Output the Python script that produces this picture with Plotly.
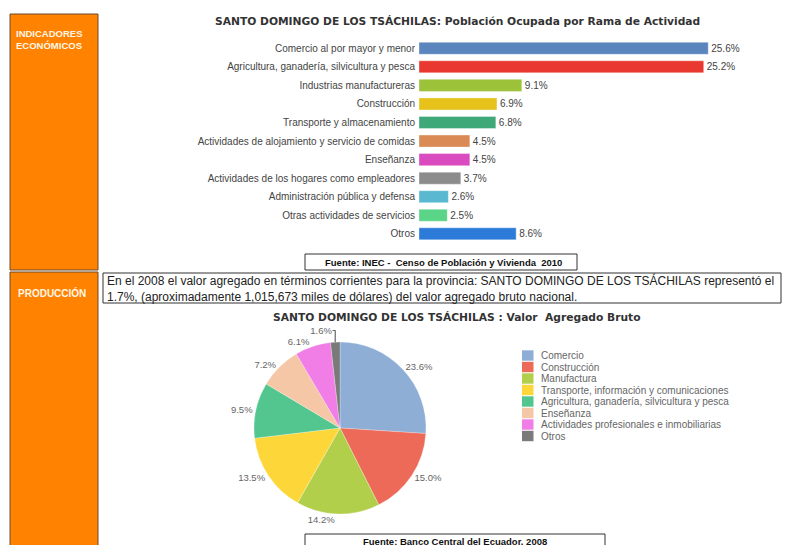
import plotly.graph_objects as go

# The page body has an 8px default margin, so the figure is sized to the
# remaining viewport and positions below are given in screen pixels.
OFF = 8
W, H = 792 - OFF, 545 - OFF

# ---------------- data ----------------
bar_categories = [
    "Comercio al por mayor y menor",
    "Agricultura, ganadería, silvicultura y pesca",
    "Industrias manufactureras",
    "Construcción",
    "Transporte y almacenamiento",
    "Actividades de alojamiento y servicio de comidas",
    "Enseñanza",
    "Actividades de los hogares como empleadores",
    "Administración pública y defensa",
    "Otras actividades de servicios",
    "Otros",
]
bar_values = [25.6, 25.2, 9.1, 6.9, 6.8, 4.5, 4.5, 3.7, 2.6, 2.5, 8.6]
bar_colors = ["#5a86bd", "#e8382f", "#9cc23a", "#e6c21a", "#3fa878", "#d98a55",
              "#d94bbf", "#8c8c8c", "#5bb8d1", "#5ad487", "#2d7bd9"]

pie_labels = [
    "Comercio",
    "Construcción",
    "Manufactura",
    "Transporte, información y comunicaciones",
    "Agricultura, ganadería, silvicultura y pesca",
    "Enseñanza",
    "Actividades profesionales e inmobiliarias",
    "Otros",
]
pie_values = [23.6, 15.0, 14.2, 13.5, 9.5, 7.2, 6.1, 1.6]
pie_colors = ["#8eaed6", "#ee6a58", "#b2cf4c", "#fdd73a", "#52c68e",
              "#f5c7a6", "#f07ee6", "#7a7a7a"]

bar_title = "SANTO DOMINGO DE LOS TSÁCHILAS: Población Ocupada por Rama de Actividad"
pie_title = "SANTO DOMINGO DE LOS TSÁCHILAS : Valor  Agregado Bruto"
source1 = "Fuente: INEC -  Censo de Población y Vivienda  2010"
source2 = "Fuente: Banco Central del Ecuador, 2008"
paragraph = ["En el 2008 el valor agregado en términos corrientes para la provincia: SANTO DOMINGO DE LOS TSÁCHILAS representó el",
             "1.7%, (aproximadamente 1,015,673 miles de dólares) del valor agregado bruto nacional."]

FONT = "Liberation Sans, Arial, sans-serif"
TFONT = "DejaVu Sans, Verdana, sans-serif"


def px(x):
    return (x - OFF) / W


def py(y):
    return 1 - (y - OFF) / H


fig = go.Figure()

fig.add_trace(go.Bar(
    x=bar_values, y=bar_categories, orientation="h",
    marker=dict(color=bar_colors, line=dict(color="rgba(255,255,255,0.6)", width=0.6)),
    width=0.65,
    text=[f"{v:.1f}%" for v in bar_values], textposition="outside",
    textfont=dict(family=FONT, size=10, color="#444"),
    cliponaxis=False, showlegend=False, hoverinfo="skip",
))

fig.add_trace(go.Pie(
    labels=pie_labels, values=pie_values, sort=False, direction="clockwise",
    rotation=0, marker=dict(colors=pie_colors, line=dict(color="rgba(255,255,255,0.5)", width=0.5)),
    text=[f"{v:.1f}%" for v in pie_values], textinfo="text", textposition="outside",
    textfont=dict(family=FONT, size=9.5, color="#666"),
    domain=dict(x=[px(254), px(426)], y=[py(514), py(342)]),
    showlegend=False, hoverinfo="skip",
))

shapes = []
annotations = []

# orange side panels
for (y0, y1) in [(14, 270), (272, 560)]:
    shapes.append(dict(type="rect", xref="paper", yref="paper", x0=px(10), x1=px(98),
                       y0=py(y1), y1=py(y0), fillcolor="#ff8200",
                       line=dict(color="#6b4a2a", width=1), layer="below"))
annotations.append(dict(xref="paper", yref="paper", x=px(14), y=py(26), xanchor="left", yanchor="top",
                        text="<b>INDICADORES<br>ECONÓMICOS</b>", showarrow=False, align="left",
                        font=dict(family=FONT, size=9.5, color="#fff6e6")))
annotations.append(dict(xref="paper", yref="paper", x=px(16), y=py(293), xanchor="left", yanchor="middle",
                        text="<b>PRODUCCIÓN</b>", showarrow=False,
                        font=dict(family=FONT, size=10, color="#fff6e6")))

# source boxes
shapes.append(dict(type="rect", xref="paper", yref="paper", x0=px(305), x1=px(577),
                   y0=py(270), y1=py(254), fillcolor="white", line=dict(color="#333", width=1)))
annotations.append(dict(xref="paper", yref="paper", x=px(443), y=py(262.5), xanchor="center", yanchor="middle",
                        text=f"<b>{source1}</b>", showarrow=False,
                        font=dict(family=FONT, size=9.5, color="#111")))
shapes.append(dict(type="rect", xref="paper", yref="paper", x0=px(305), x1=px(605),
                   y0=py(560), y1=py(534), fillcolor="white", line=dict(color="#333", width=1)))
annotations.append(dict(xref="paper", yref="paper", x=px(455), y=py(541), xanchor="center", yanchor="middle",
                        text=f"<b>{source2}</b>", showarrow=False,
                        font=dict(family=FONT, size=9.5, color="#111")))

# paragraph box
shapes.append(dict(type="rect", xref="paper", yref="paper", x0=px(103), x1=px(781),
                   y0=py(303), y1=py(273), fillcolor="white", line=dict(color="#333", width=1)))
annotations.append(dict(xref="paper", yref="paper", x=px(105), y=py(288.5), xanchor="left", yanchor="middle",
                        text="<br>".join(paragraph), showarrow=False, align="left",
                        font=dict(family=FONT, size=12, color="#222")))

# titles
annotations.append(dict(xref="paper", yref="paper", x=px(457), y=py(21), xanchor="center", yanchor="middle",
                        text=f"<b>{bar_title}</b>", showarrow=False,
                        font=dict(family=TFONT, size=10.7, color="#333")))
annotations.append(dict(xref="paper", yref="paper", x=px(457), y=py(317), xanchor="center", yanchor="middle",
                        text=f"<b>{pie_title}</b>", showarrow=False,
                        font=dict(family=TFONT, size=10.7, color="#333")))

# pie legend
for i, (lab, col) in enumerate(zip(pie_labels, pie_colors)):
    yc = 355.5 + i * 11.5
    shapes.append(dict(type="rect", xref="paper", yref="paper", x0=px(522), x1=px(533.5),
                       y0=py(yc + 5.2), y1=py(yc - 5.2), fillcolor=col, line=dict(width=0)))
    annotations.append(dict(xref="paper", yref="paper", x=px(539), y=py(yc), xanchor="left", yanchor="middle",
                            text=lab, showarrow=False,
                            font=dict(family=FONT, size=10, color="#666")))

fig.update_layout(
    width=W, height=H, margin=dict(l=0, r=0, t=0, b=0),
    paper_bgcolor="white", plot_bgcolor="white",
    shapes=shapes, annotations=annotations,
    xaxis=dict(domain=[px(419), px(741)], range=[0, 28.5], visible=False, fixedrange=True),
    yaxis=dict(domain=[py(243.1), py(39.0)], autorange="reversed", showgrid=False, zeroline=False,
               showline=False, ticks="", ticklabelstandoff=3,
               tickfont=dict(family=FONT, size=10, color="#444"), fixedrange=True),
    bargap=0.35,
)

fig.write_html("out.html")
